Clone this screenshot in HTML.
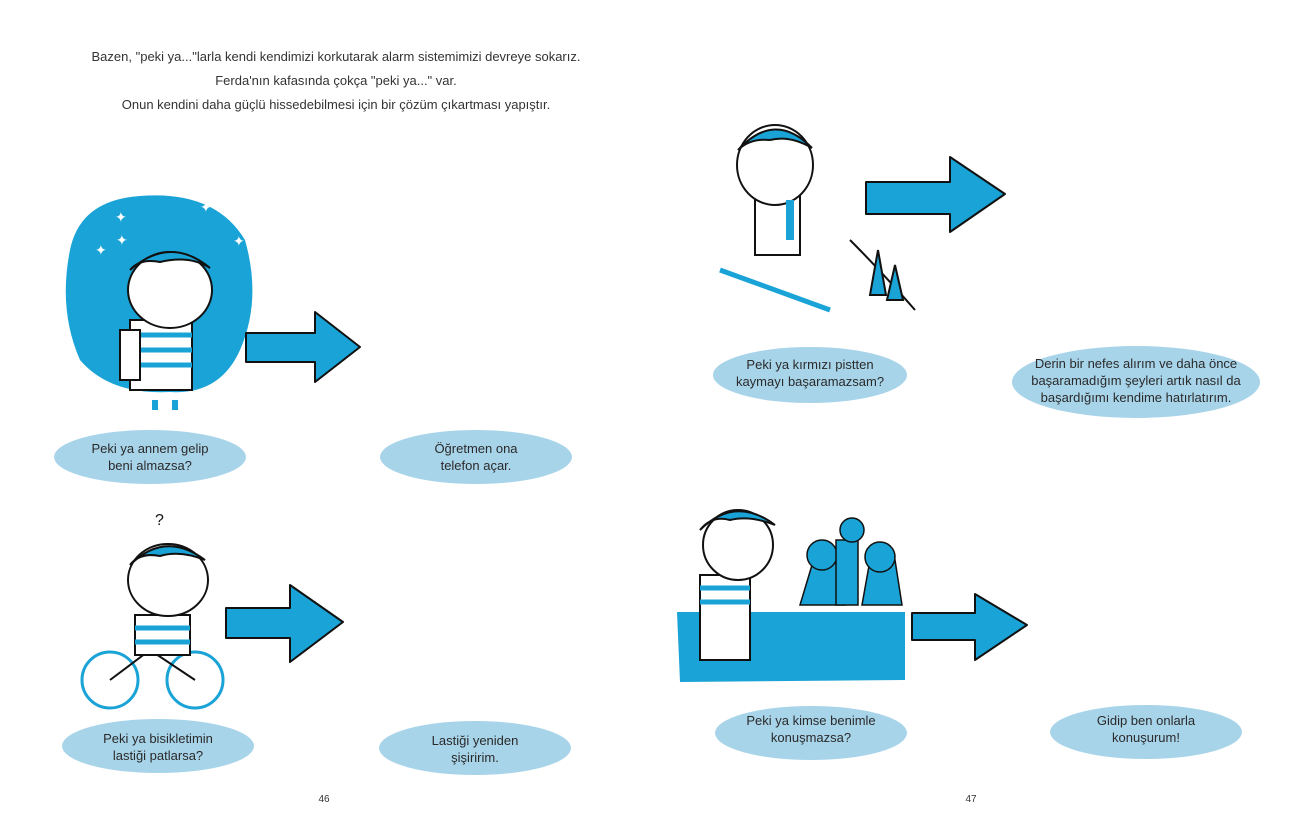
<!DOCTYPE html>
<html><head><meta charset="utf-8"><style>
html,body{margin:0;padding:0;background:#fff}
svg{display:block}
text{font-family:"Liberation Sans",sans-serif;fill:#333}
.b text{font-size:13px;fill:#2a2a2a}
</style></head><body>
<svg width="1296" height="825" viewBox="0 0 1296 825">
<g font-size="13" text-anchor="middle" style="font-family:'Liberation Sans',sans-serif" fill="#333">
<text x="336" y="61">Bazen, "peki ya..."larla kendi kendimizi korkutarak alarm sistemimizi devreye sokarız.</text>
<text x="336" y="85">Ferda'nın kafasında çokça "peki ya..." var.</text>
<text x="336" y="109">Onun kendini daha güçlü hissedebilmesi için bir çözüm çıkartması yapıştır.</text>
</g>
<!-- night blob -->
<path d="M70 250 Q80 200 140 196 Q215 190 245 240 Q262 300 240 350 Q220 395 170 392 Q110 395 80 360 Q58 310 70 250Z" fill="#1aa3d6"/>
<path d="M166 200 a14 14 0 1 0 16 24 a11 11 0 1 1 -16 -24z" fill="#fff"/>
<g font-size="14"><text x="115" y="222" style="fill:#fff">✦</text><text x="95" y="255" style="fill:#fff">✦</text><text x="200" y="212" style="fill:#fff">✦</text><text x="233" y="246" style="fill:#fff">✦</text><text x="116" y="245" style="fill:#fff">✦</text></g>
<!-- girl 1 -->
<g stroke="#111" stroke-width="2" fill="#fff">
<rect x="130" y="320" width="62" height="70" fill="#fff"/>
<path d="M130 335h62M130 350h62M130 365h62" stroke="#1aa3d6" stroke-width="5"/>
<rect x="120" y="330" width="20" height="50"/>
<ellipse cx="170" cy="290" rx="42" ry="38"/>
<path d="M130 270 Q170 235 210 268 Q190 255 160 262 Q140 258 130 270Z" fill="#1aa3d6"/>
<path d="M155 400v10M175 400v10" stroke="#1aa3d6" stroke-width="6"/>
</g>
<!-- girl 2 bike -->
<g stroke="#111" stroke-width="2" fill="#fff">
<circle cx="110" cy="680" r="28" stroke="#1aa3d6" stroke-width="3" fill="none"/>
<circle cx="195" cy="680" r="28" stroke="#1aa3d6" stroke-width="3" fill="none"/>
<path d="M110 680 L150 650 L195 680" fill="none"/>
<rect x="135" y="615" width="55" height="40"/>
<path d="M135 628h55M135 642h55" stroke="#1aa3d6" stroke-width="5"/>
<ellipse cx="168" cy="580" rx="40" ry="36"/>
<path d="M130 565 Q165 530 205 560 Q180 550 160 556 Q140 552 130 565Z" fill="#1aa3d6"/>
</g>
<text x="155" y="525" font-size="16" style="fill:#111">?</text>
<!-- ski girl -->
<g stroke="#111" stroke-width="2" fill="#fff">
<path d="M720 270 L830 310" stroke="#1aa3d6" stroke-width="5"/>
<path d="M850 240 Q880 270 915 310" fill="none"/>
<rect x="755" y="195" width="45" height="60"/>
<ellipse cx="775" cy="165" rx="38" ry="40"/>
<path d="M738 150 Q775 110 812 148 Q790 135 770 140 Q750 138 738 150Z" fill="#1aa3d6"/>
<path d="M790 200 v40" stroke="#1aa3d6" stroke-width="8"/>
<path d="M878 250 l8 45 l-16 0z M895 265 l8 35 l-16 0z" fill="#1aa3d6"/>
</g>
<!-- group scene -->
<path d="M677 612 L905 612 L905 680 L680 682Z" fill="#1aa3d6"/>
<g stroke="#111" stroke-width="2" fill="#fff">
<rect x="700" y="575" width="50" height="85"/>
<path d="M700 588h50M700 602h50" stroke="#1aa3d6" stroke-width="5"/>
<ellipse cx="738" cy="545" rx="35" ry="35"/>
<path d="M700 530 Q735 495 775 525 Q750 515 730 520 Q712 515 700 530Z" fill="#1aa3d6"/>
</g>
<g fill="#1aa3d6" stroke="#111" stroke-width="1.5">
<path d="M800 605 L815 555 L835 560 L845 605Z"/><circle cx="822" cy="555" r="15"/>
<rect x="836" y="540" width="22" height="65"/><circle cx="852" cy="530" r="12"/>
<path d="M862 605 L870 560 L895 560 L902 605Z"/><circle cx="880" cy="557" r="15"/>
</g>
<!-- arrows -->
<g fill="#1aa3d6" stroke="#111" stroke-width="2" stroke-linejoin="round">
<path d="M246 333 L315 333 L315 312 L360 347 L315 382 L315 362 L246 362Z"/>
<path d="M226 608 L290 608 L290 585 L343 622 L290 662 L290 638 L226 638Z"/>
<path d="M866 182 L950 182 L950 157 L1005 194 L950 232 L950 214 L866 214Z"/>
<path d="M912 613 L975 613 L975 594 L1027 625 L975 660 L975 640 L912 640Z"/>
</g>
<!-- bubbles -->
<g fill="#a8d4ea">
<ellipse cx="150" cy="457" rx="96" ry="27"/>
<ellipse cx="476" cy="457" rx="96" ry="27"/>
<ellipse cx="158" cy="746" rx="96" ry="27"/>
<ellipse cx="475" cy="748" rx="96" ry="27"/>
<ellipse cx="810" cy="375" rx="97" ry="28"/>
<ellipse cx="1136" cy="382" rx="124" ry="36"/>
<ellipse cx="811" cy="733" rx="96" ry="27"/>
<ellipse cx="1146" cy="732" rx="96" ry="27"/>
</g>
<g class="b" text-anchor="middle">
<text x="150" y="453">Peki ya annem gelip</text><text x="150" y="470">beni almazsa?</text>
<text x="476" y="453">Öğretmen ona</text><text x="476" y="470">telefon açar.</text>
<text x="158" y="743">Peki ya bisikletimin</text><text x="158" y="760">lastiği patlarsa?</text>
<text x="475" y="745">Lastiği yeniden</text><text x="475" y="762">şişiririm.</text>
<text x="810" y="369">Peki ya kırmızı pistten</text><text x="810" y="386">kaymayı başaramazsam?</text>
<text x="1136" y="368">Derin bir nefes alırım ve daha önce</text><text x="1136" y="385">başaramadığım şeyleri artık nasıl da</text><text x="1136" y="402">başardığımı kendime hatırlatırım.</text>
<text x="811" y="725">Peki ya kimse benimle</text><text x="811" y="742">konuşmazsa?</text>
<text x="1146" y="725">Gidip ben onlarla</text><text x="1146" y="742">konuşurum!</text>
</g>
<text x="324" y="802" font-size="10" text-anchor="middle">46</text>
<text x="971" y="802" font-size="10" text-anchor="middle">47</text>
</svg>
</body></html>
